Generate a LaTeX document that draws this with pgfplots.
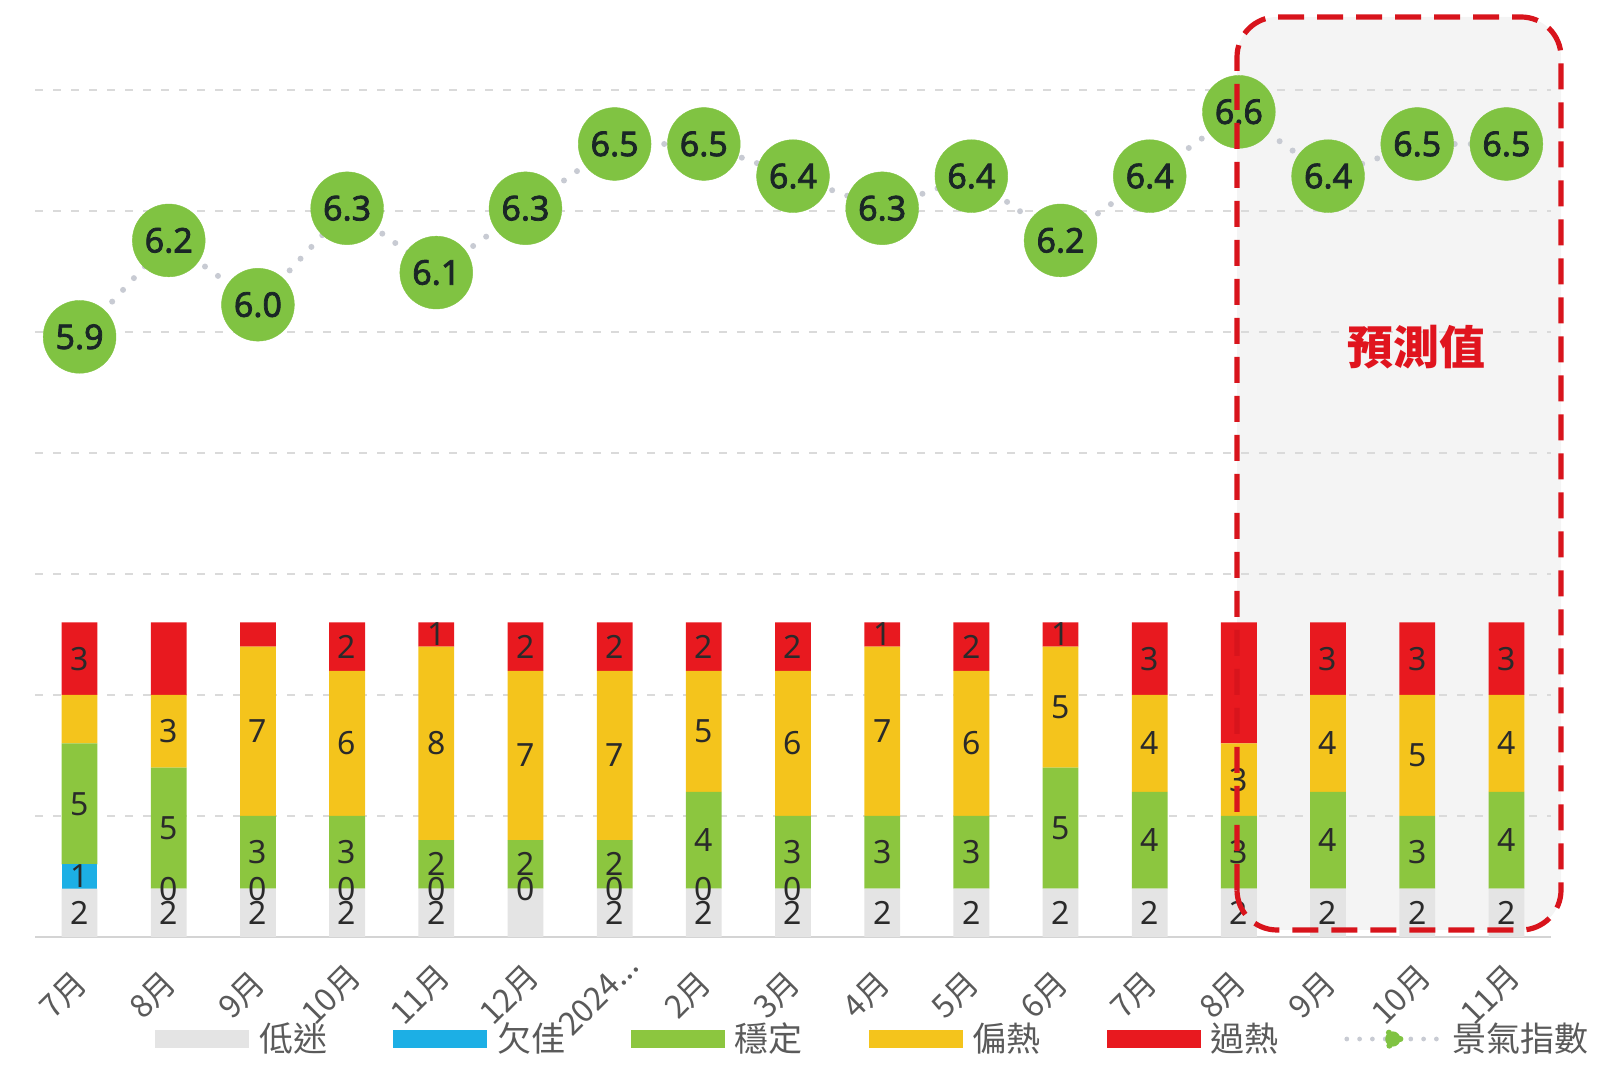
\documentclass[border=0pt]{standalone}
\usepackage{fontspec}
\usepackage{pgfplots}
\usepackage{pgfplotstable}
\pgfplotsset{compat=1.18}
\setmainfont{Noto Sans}
\newfontfamily\numfont[FakeBold=2.2]{Noto Sans}
\newfontfamily\cjk{Noto Sans CJK TC}

\definecolor{cGray}{HTML}{E4E4E4}
\definecolor{cBlue}{HTML}{1CAFE5}
\definecolor{cGreen}{HTML}{8CC63F}
\definecolor{cYellow}{HTML}{F4C41C}
\definecolor{cRed}{HTML}{E8191F}
\definecolor{cCircle}{HTML}{80C342}
\definecolor{cDot}{HTML}{C8CBD3}
\definecolor{cGrid}{HTML}{DADADA}
\definecolor{cBase}{HTML}{D4D4D4}
\definecolor{cBox}{HTML}{F4F4F4}
\definecolor{cBorder}{HTML}{D8141C}
\definecolor{cTick}{HTML}{5A5A5A}
\definecolor{cLab}{HTML}{2A2A2A}
\definecolor{cNum}{HTML}{1A2626}
\definecolor{cTitle}{HTML}{E0141E}

\pgfplotstableread{
x gray blue green yellow red
0 2 1 5 2 3
1 2 0 5 3 3
2 2 0 3 7 1
3 2 0 3 6 2
4 2 0 2 8 1
5 2 0 2 7 2
6 2 0 2 7 2
7 2 0 4 5 2
8 2 0 3 6 2
9 2 0 3 7 1
10 2 0 3 6 2
11 2 0 5 5 1
12 2 0 4 4 3
13 2 0 3 3 5
14 2 0 4 4 3
15 2 0 3 5 3
16 2 0 4 4 3
}\bars

\pgfplotstableread{
x y lab
0 1 2
0 2.5 1
0 5.5 5
0 11.5 3
1 1 2
1 2 0
1 4.5 5
1 8.5 3
2 1 2
2 2 0
2 3.5 3
2 8.5 7
3 1 2
3 2 0
3 3.5 3
3 8 6
3 12 2
4 1 2
4 2 0
4 3 2
4 8 8
4 12.5 1
5 2 0
5 3 2
5 7.5 7
5 12 2
6 1 2
6 2 0
6 3 2
6 7.5 7
6 12 2
7 1 2
7 2 0
7 4 4
7 8.5 5
7 12 2
8 1 2
8 2 0
8 3.5 3
8 8 6
8 12 2
9 1 2
9 3.5 3
9 8.5 7
9 12.5 1
10 1 2
10 3.5 3
10 8 6
10 12 2
11 1 2
11 4.5 5
11 9.5 5
11 12.5 1
12 1 2
12 4 4
12 8 4
12 11.5 3
13 1 2
13 3.5 3
13 6.5 3
14 1 2
14 4 4
14 8 4
14 11.5 3
15 1 2
15 3.5 3
15 7.5 5
15 11.5 3
16 1 2
16 4 4
16 8 4
16 11.5 3
}\labs

\pgfplotstableread{
x v
0 5.9
1 6.2
2 6.0
3 6.3
4 6.1
5 6.3
6 6.5
7 6.5
8 6.4
9 6.3
10 6.4
11 6.2
12 6.4
13 6.6
14 6.4
15 6.5
16 6.5
}\idx

\pgfplotsset{
  common/.style={scale only axis, width=758pt, height=423.5pt,
    at={(0pt,0pt)}, anchor=south west, xmin=-0.5, xmax=16.5, clip=false},
  swatch/.style={legend image code/.code={\fill[#1] (0pt,-4.25pt) rectangle (46.5pt,4.25pt); \path (51.5pt,0pt);}},
}

\begin{document}
\begin{tikzpicture}
\fill[cBox, rounded corners=20pt] (601pt,3.5pt) rectangle (763pt,460pt);

\begin{axis}[common,
  ybar stacked, bar width=17.9pt,
  ymin=0, ymax=35,
  xtick={0,...,16},
  xticklabels={7月,8月,9月,10月,11月,12月,{2024{.}{.}{.}},2月,3月,4月,5月,6月,7月,8月,9月,10月,11月},
  ytick={5,10,...,35}, yticklabels={},
  ymajorgrids, grid style={cGrid, line width=1.2pt, dash pattern=on 4pt off 5pt},
  extra y ticks={0}, extra y tick labels={},
  extra y tick style={grid style={cBase, line width=1.2pt, solid}},
  axis line style={draw=none}, tick style={draw=none},
  xticklabel style={font=\cjk\fontsize{16pt}{16pt}\selectfont, text=cTick,
    yshift=-29pt, xshift=-8pt, rotate=45, anchor=center, inner sep=0pt},
]
\addplot[fill=cGray, draw=none] table[x=x,y=gray]{\bars};
\addplot[fill=cBlue, draw=none] table[x=x,y=blue]{\bars};
\addplot[fill=cGreen, draw=none] table[x=x,y=green]{\bars};
\addplot[fill=cYellow, draw=none] table[x=x,y=yellow]{\bars};
\addplot[fill=cRed, draw=none] table[x=x,y=red]{\bars};
\end{axis}

\begin{axis}[common, ymin=0, ymax=35, hide axis]
\addplot[only marks, mark=none, nodes near coords, point meta=explicit symbolic,
  nodes near coords style={anchor=center, font=\fontsize{16pt}{16pt}\selectfont, text=cLab, inner sep=0pt}]
  table[x=x,y=y,meta=lab]{\labs};
\end{axis}

\begin{axis}[common, ymin=4.033, ymax=6.668, hide axis,
  legend columns=6,
  legend style={at={(0,0)}, anchor=west, xshift=60pt, yshift=-51pt,
    draw=none, fill=none, inner sep=0pt,
    font=\cjk\fontsize{17pt}{17pt}\selectfont, text=cTick,
    nodes={inner sep=0pt},
    /tikz/every even column/.append style={column sep=33pt}},
]
\addlegendimage{swatch=cGray}\addlegendentry{低迷}
\addlegendimage{swatch=cBlue}\addlegendentry{欠佳}
\addlegendimage{swatch=cGreen}\addlegendentry{穩定}
\addlegendimage{swatch=cYellow}\addlegendentry{偏熱}
\addlegendimage{swatch=cRed}\addlegendentry{過熱}
\addplot[cDot, line width=3pt, line cap=round, dash pattern=on 0pt off 8pt,
  mark=*, mark size=18.2pt, mark options={solid, fill=cCircle, draw=cCircle, line width=0.2pt},
  nodes near coords={\pgfmathprintnumber[fixed,fixed zerofill,precision=1,assume math mode=true]{\pgfplotspointmeta}},
  point meta=explicit,
  nodes near coords style={anchor=center, font=\numfont\fontsize{17pt}{17pt}\selectfont, text=cNum},
  legend image code/.code={
    \draw[cDot, line width=2.4pt, line cap=round, dash pattern=on 0pt off 6.4pt] (0pt,0pt) -- (46.5pt,0pt);
    \fill[cCircle] (23pt,0pt) circle (3.8pt); \path (51.5pt,0pt);}]
  table[x=x,y=v,meta=v]{\idx};
\addlegendentry{景氣指數}
\end{axis}

\draw[cBorder, line width=2.6pt, dash pattern=on 13pt off 6.5pt, rounded corners=20pt]
  (601pt,3.5pt) rectangle (763pt,460pt);
\node[text=cTitle, font=\cjk\bfseries\fontsize{23pt}{23pt}\selectfont] at (690.5pt,295pt) {預測值};

\pgfresetboundingbox
\path[use as bounding box] (-17.5pt,-71.5pt) rectangle (782.5pt,468.5pt);
\end{tikzpicture}
\end{document}
